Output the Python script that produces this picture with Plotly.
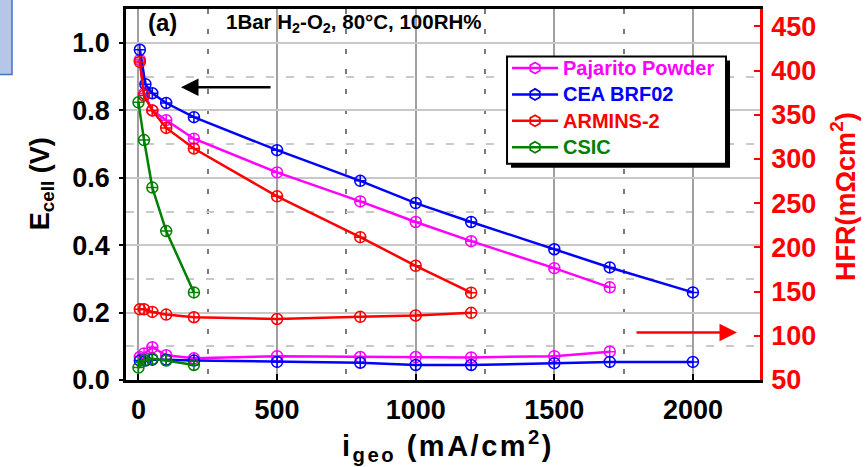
import plotly.graph_objects as go

# ---------------- data ----------------
series_names = ["Pajarito Powder", "CEA BRF02", "ARMINS-2", "CSIC"]
series_colors = ["#FF00FF", "#0000FF", "#FF0000", "#008000"]

pajarito_i = [5, 20, 50, 100, 200, 500, 800, 1000, 1200, 1500, 1700]
pajarito_v = [0.95, 0.85, 0.80, 0.771, 0.716, 0.616, 0.53, 0.469, 0.412, 0.332, 0.275]
pajarito_hfr = [76, 80, 87, 78, 74.5, 77, 76, 76, 75.5, 77, 82]

cea_i = [5, 25, 50, 100, 200, 500, 800, 1000, 1200, 1500, 1700, 2000]
cea_v = [0.98, 0.878, 0.851, 0.822, 0.78, 0.682, 0.591, 0.525, 0.469, 0.388, 0.334, 0.26]
cea_hfr = [72, 72, 73, 73, 72, 70.5, 69.5, 67, 67, 69, 70.5, 70.5]

armins_i = [5, 20, 50, 100, 200, 500, 800, 1000, 1200]
armins_v = [0.944, 0.844, 0.80, 0.748, 0.687, 0.545, 0.424, 0.339, 0.259]
armins_hfr = [130, 130, 127, 124, 121, 119, 121.5, 123, 126]

csic_i = [0, 20, 50, 100, 200]
csic_v = [0.824, 0.712, 0.571, 0.442, 0.26]
csic_hfr = [64, 72, 74, 72, 67]

x_ticks = [0, 500, 1000, 1500, 2000]
y_ticks = [0.0, 0.2, 0.4, 0.6, 0.8, 1.0]
y2_ticks = [50, 100, 150, 200, 250, 300, 350, 400, 450]

currents = [pajarito_i, cea_i, armins_i, csic_i]
voltages = [pajarito_v, cea_v, armins_v, csic_v]
hfrs = [pajarito_hfr, cea_hfr, armins_hfr, csic_hfr]

FONT = "Liberation Sans, Arial, sans-serif"

fig = go.Figure()

# legend-only entries
for name, col in zip(series_names, series_colors):
    fig.add_trace(go.Scatter(
        x=[None], y=[None], mode="lines+markers",
        name=f"<span style='color:{col};font-size:20px'>{name}</span>",
        line=dict(color=col, width=2.5),
        marker=dict(symbol="hexagon-open", size=11, color=col, line=dict(width=1.8, color=col)),
        showlegend=True,
    ))

# polarization curves
for name, col, xi, yv in zip(series_names, series_colors, currents, voltages):
    fig.add_trace(go.Scatter(
        x=xi, y=yv, mode="lines+markers", showlegend=False,
        line=dict(color=col, width=2.5),
        marker=dict(symbol="circle-cross-open", size=11, color=col, line=dict(width=1.5, color=col)),
        yaxis="y",
    ))

# HFR curves
for name, col, xi, yh in zip(series_names, series_colors, currents, hfrs):
    fig.add_trace(go.Scatter(
        x=xi, y=yh, mode="lines+markers", showlegend=False,
        line=dict(color=col, width=2.5),
        marker=dict(symbol="circle-cross-open", size=11, color=col, line=dict(width=1.5, color=col)),
        yaxis="y2",
    ))

fig.update_layout(
    width=867, height=467,
    margin=dict(l=126, r=107, t=6, b=87),
    plot_bgcolor="white", paper_bgcolor="white",
    font=dict(family=FONT, color="black"),
    xaxis=dict(
        range=[-45, 2242], tickvals=x_ticks, ticktext=[str(v) for v in x_ticks],
        showline=True, linecolor="black", linewidth=2.5, mirror=True,
        ticks="inside", ticklen=6, tickwidth=2, tickcolor="black",
        tickfont=dict(size=27, weight="bold", color="black", family=FONT),
        ticklabelstandoff=4,
        showgrid=True, gridcolor="#a0a0a0", gridwidth=1.5, zeroline=False,
        minor=dict(dtick=250, tick0=0, showgrid=True, gridcolor="#7a7a7a",
                   gridwidth=1.5, griddash="5px,15px", ticks=""),
    ),
    yaxis=dict(
        range=[0, 1.101], tickvals=y_ticks, ticktext=[f"{v:.1f}" for v in y_ticks],
        showline=True, linecolor="black", linewidth=2.5,
        ticks="outside", ticklen=4, tickwidth=2, tickcolor="black",
        tickfont=dict(size=27, weight="bold", color="black", family=FONT),
        ticklabelstandoff=4,
        showgrid=True, gridcolor="#c8c8c8", gridwidth=1.5, zeroline=False,
        minor=dict(dtick=0.1, tick0=0, showgrid=True, gridcolor="#c8c8c8",
                   gridwidth=1.5, griddash="8px,12px", ticks=""),
    ),
    yaxis2=dict(
        range=[50, 469.7], tickvals=y2_ticks, overlaying="y", side="right",
        showline=True, linecolor="#FF0000", linewidth=2.5,
        ticks="inside", ticklen=6, tickwidth=2, tickcolor="#FF0000",
        tickfont=dict(size=27, weight="bold", color="#FF0000", family=FONT),
        ticklabelstandoff=3,
        showgrid=False, zeroline=False,
    ),
    legend=dict(
        x=0.601, y=0.89, xanchor="left", yanchor="top",
        bgcolor="rgba(0,0,0,0)", borderwidth=0,
        font=dict(size=18, weight="bold", family=FONT),
        itemwidth=46, tracegroupgap=0,
    ),
)

shapes = [
    # legend shadow
    dict(type="rect", xref="paper", yref="paper", x0=0.6073, x1=0.9527, y0=0.5722, y1=0.8610,
         fillcolor="black", line=dict(width=0), layer="above"),
    # legend box
    dict(type="rect", xref="paper", yref="paper", x0=0.601, x1=0.9464, y0=0.5829, y1=0.8717,
         fillcolor="white", line=dict(color="black", width=2), layer="above"),
    # slide fragment top-left
    dict(type="rect", xref="paper", yref="paper", x0=-0.215, x1=-0.1798, y0=0.8235, y1=1.03,
         fillcolor="#b4c7e7", line=dict(color="#4472c4", width=1.5), layer="above"),
]
fig.update_layout(shapes=shapes)

annotations = [
    dict(text="<b>(a)</b>", x=0.032, y=0.9626, xref="paper", yref="paper",
         xanchor="left", yanchor="middle", showarrow=False,
         font=dict(size=24, color="black", family=FONT)),
    dict(text="<b>1Bar H<sub>2</sub>-O<sub>2</sub>, 80°C, 100RH%</b>", x=0.155, y=0.9626,
         xref="paper", yref="paper", xanchor="left", yanchor="middle", showarrow=False,
         font=dict(size=20.5, color="black", family=FONT)),
    dict(text="<b><span style='letter-spacing:2.5px'>i<sub>geo</sub> (mA/cm<sup>2</sup>)</span></b>",
         x=0.508, y=-0.177,
         xref="paper", yref="paper", xanchor="center", yanchor="middle", showarrow=False,
         font=dict(size=29, color="black", family=FONT)),
    dict(text="<b>E<sub>cell</sub> (V)</b>", x=-0.1325, y=0.53, textangle=-90,
         xref="paper", yref="paper", xanchor="center", yanchor="middle", showarrow=False,
         font=dict(size=27, color="black", family=FONT)),
    dict(text="<b>HFR(mΩcm<sup>2</sup>)</b>", x=1.132, y=0.495, textangle=-90,
         xref="paper", yref="paper", xanchor="center", yanchor="middle", showarrow=False,
         font=dict(size=27, color="#FF0000", family=FONT)),
    # arrows
    dict(text="", x=0.0868, y=0.7888, xref="paper", yref="paper", ax=91, ay=0,
         showarrow=True, arrowhead=2, arrowsize=1.4, arrowwidth=2.5, arrowcolor="black"),
    dict(text="", x=0.9637, y=0.1283, xref="paper", yref="paper", ax=-102, ay=0,
         showarrow=True, arrowhead=2, arrowsize=1.4, arrowwidth=2.5, arrowcolor="#FF0000"),
]
fig.update_layout(annotations=annotations)

fig.write_html("out.html", config={"displayModeBar": False},
               post_script="document.body.style.margin='0px';")
